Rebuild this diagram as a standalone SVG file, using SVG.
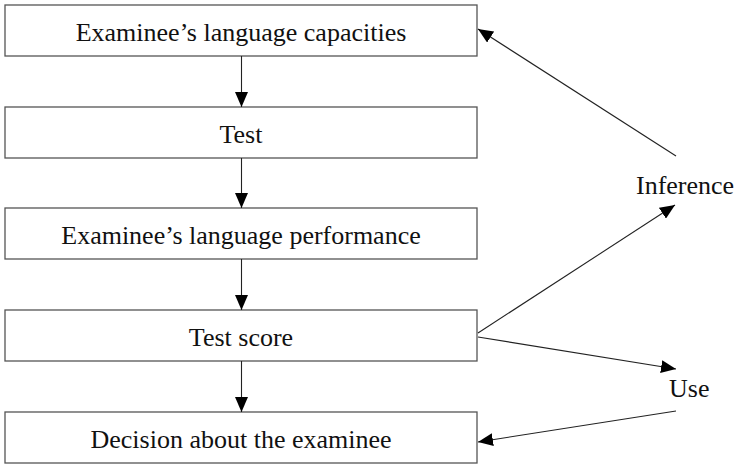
<svg xmlns="http://www.w3.org/2000/svg" width="740" height="464" viewBox="0 0 740 464">
<style>
.box{fill:#fff;stroke:#555;stroke-width:1.3}
.t{font-family:"Liberation Serif",serif;font-size:26px;fill:#111;text-anchor:middle}
.lbl{font-family:"Liberation Serif",serif;font-size:26px;fill:#111}
.c{stroke:#222;stroke-width:1.1;fill:none;marker-end:url(#ah)}
</style>
<defs>
<marker id="ah" markerWidth="15" markerHeight="13" refX="15" refY="6.5" orient="auto" markerUnits="userSpaceOnUse">
<path d="M0,0 L15,6.5 L0,13 Z" fill="#000"/>
</marker>
</defs>
<rect width="740" height="464" fill="#fff"/>
<g id="n1"><rect class="box" x="5" y="5" width="472" height="51"/><text class="t" x="241" y="41">Examinee’s language capacities</text></g>
<g id="n2"><rect class="box" x="5" y="107" width="472" height="51"/><text class="t" x="241" y="143">Test</text></g>
<g id="n3"><rect class="box" x="5" y="208" width="472" height="51"/><text class="t" x="241" y="244">Examinee’s language performance</text></g>
<g id="n4"><rect class="box" x="5" y="310" width="472" height="51"/><text class="t" x="241" y="346">Test score</text></g>
<g id="n5"><rect class="box" x="5" y="412" width="472" height="51"/><text class="t" x="241" y="448">Decision about the examinee</text></g>
<g id="inference"><text class="lbl" x="636" y="194">Inference</text></g>
<g id="use"><text class="lbl" x="669" y="397">Use</text></g>
<g id="connectors">
<line class="c" x1="241.5" y1="56" x2="241.5" y2="107"/>
<line class="c" x1="241.5" y1="158" x2="241.5" y2="208"/>
<line class="c" x1="241.5" y1="259" x2="241.5" y2="310"/>
<line class="c" x1="241.5" y1="361" x2="241.5" y2="412"/>
<line class="c" x1="676" y1="156" x2="478" y2="29"/>
<line class="c" x1="478" y1="333" x2="675" y2="205"/>
<line class="c" x1="478" y1="337" x2="676" y2="369"/>
<line class="c" x1="676" y1="411" x2="478" y2="442"/>
</g>
</svg>
